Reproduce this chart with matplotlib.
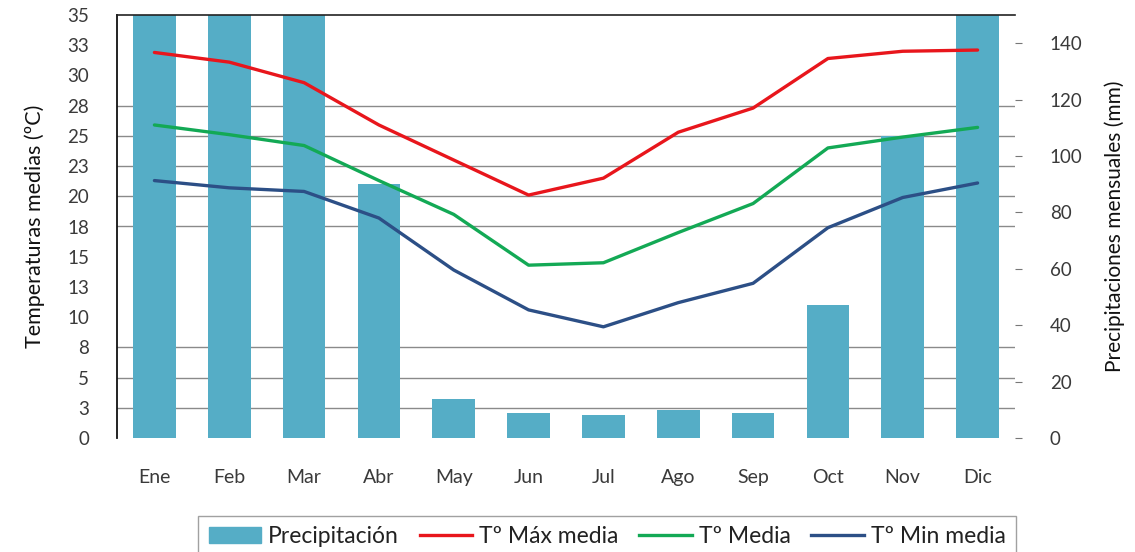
import matplotlib.pyplot as plt
import numpy as np
from matplotlib.patches import Patch
from matplotlib.lines import Line2D

plt.rcParams['font.family'] = ['Lato', 'DejaVu Sans']

meses = ["Ene", "Feb", "Mar", "Abr", "May", "Jun", "Jul", "Ago", "Sep", "Oct", "Nov", "Dic"]
precip = [175, 165, 158, 90, 14, 9, 8, 10, 9, 47, 107, 160]
t_max = [31.9, 31.1, 29.4, 25.9, 23.0, 20.1, 21.5, 25.3, 27.3, 31.4, 32.0, 32.1]
t_med = [25.9, 25.1, 24.2, 21.3, 18.5, 14.3, 14.5, 17.0, 19.4, 24.0, 24.9, 25.7]
t_min = [21.3, 20.7, 20.4, 18.2, 13.9, 10.6, 9.2, 11.2, 12.8, 17.4, 19.9, 21.1]

temp_ticks = [0, 2.5, 5, 7.5, 10, 12.5, 15, 17.5, 20, 22.5, 25, 27.5, 30, 32.5, 35]
temp_labels = ["0", "3", "5", "8", "10", "13", "15", "18", "20", "23", "25", "28", "30", "33", "35"]
prec_ticks = [0, 20, 40, 60, 80, 100, 120, 140]
grid_temps = [2.5, 5, 7.5, 17.5, 20, 22.5, 25, 27.5]

c_bar = "#55adc6"
c_max = "#e8161c"
c_med = "#13a955"
c_min = "#2c4f86"
c_txt = "#3a3a3a"

fig = plt.figure(figsize=(11.35, 5.52), dpi=100)
ax = fig.add_axes([117/1135, 1-438/552, (1015-117)/1135, (438-15)/552])
ax2 = ax.twinx()
ax.set_zorder(ax2.get_zorder() + 1)
ax.patch.set_visible(False)

x = np.arange(len(meses))
TMAX, PMAX = 35, 150

# gridlines behind bars (on precipitation axis)
for g in grid_temps:
    ax2.axhline(g * PMAX / TMAX, color="#8a8a8a", lw=1.0, zorder=0)
ax2.bar(x, precip, width=0.57, color=c_bar, zorder=2)
ax2.set_ylim(0, PMAX)
ax2.set_yticks(prec_ticks)
ax2.tick_params(axis='y', length=5, width=0.8, color="#777777", pad=20, labelsize=13.5, labelcolor=c_txt)
ax2.set_ylabel("Precipitaciones mensuales (mm)", fontsize=15, color="#111111", labelpad=16)

ax.plot(x, t_max, color=c_max, lw=2.4, solid_joinstyle='round', solid_capstyle='round')
ax.plot(x, t_med, color=c_med, lw=2.4, solid_joinstyle='round', solid_capstyle='round')
ax.plot(x, t_min, color=c_min, lw=2.4, solid_joinstyle='round', solid_capstyle='round')
ax.set_xlim(-0.5, len(meses) - 0.5)
ax.set_ylim(0, TMAX)
ax.set_yticks(temp_ticks)
ax.set_yticklabels(temp_labels)
ax.set_xticks(x)
ax.set_xticklabels(meses)
ax.tick_params(axis='y', length=0, pad=20, labelsize=13.5, labelcolor=c_txt)
ax.tick_params(axis='x', length=0, pad=22, labelsize=14, labelcolor=c_txt)
ax.set_ylabel("Temperaturas medias (ºC)", fontsize=15.5, color="#111111", labelpad=16)

for a in (ax, ax2):
    a.spines['right'].set_visible(False)
    a.spines['bottom'].set_visible(False)
ax2.spines['left'].set_visible(False)
ax2.spines['top'].set_visible(False)
ax.spines['left'].set_color("#111111")
ax.spines['left'].set_linewidth(1.3)
ax.spines['top'].set_color("#222222")
ax.spines['top'].set_linewidth(1.2)

handles = [Patch(color=c_bar, label="Precipitación"),
           Line2D([], [], color=c_max, lw=2.4, label="Tº Máx media"),
           Line2D([], [], color=c_med, lw=2.4, label="Tº Media"),
           Line2D([], [], color=c_min, lw=2.4, label="Tº Min media")]
leg = fig.legend(handles=handles, loc='center', bbox_to_anchor=(0.535, 0.028), ncol=4,
                 frameon=True, fancybox=False, edgecolor="#8a8a8a", fontsize=16.5,
                 handlelength=2.3, columnspacing=0.9, handletextpad=0.3, borderpad=0.45)
for t in leg.get_texts():
    t.set_color("#222222")

fig.savefig("out.png", dpi=100)
